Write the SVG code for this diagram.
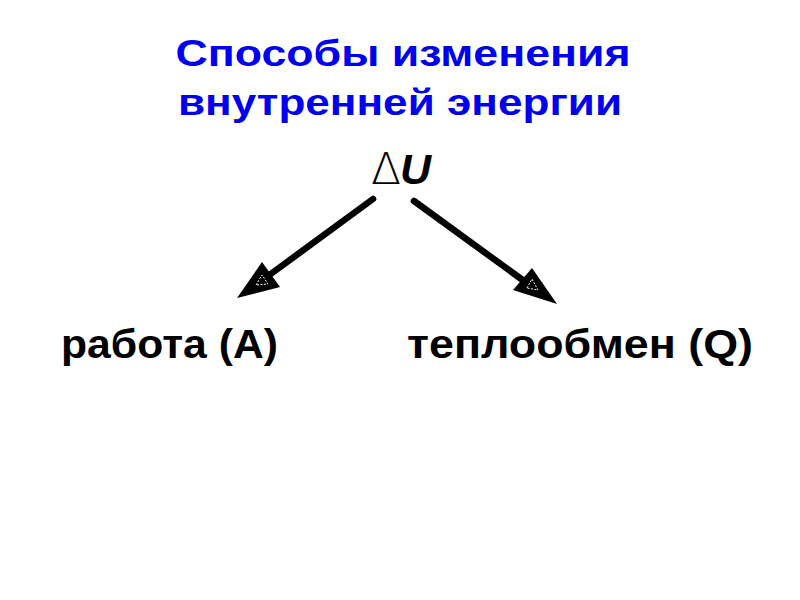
<svg xmlns="http://www.w3.org/2000/svg" width="800" height="600" viewBox="0 0 800 600">
<style>
.title{font-family:"Liberation Sans",Arial,sans-serif;font-weight:bold;font-size:36px;fill:#0000ee;text-anchor:middle}
.lbl{font-family:"Liberation Sans",Arial,sans-serif;font-weight:bold;font-size:41px;fill:#000}
.conn{stroke:#000;stroke-width:6.5;stroke-linecap:round;fill:none}
.head{fill:#000}
.inner{fill:#000;stroke:#fff;stroke-width:1;stroke-dasharray:2 1.5}
</style>
<rect width="800" height="600" fill="#fff"/>
<g id="title">
<text class="title" x="403" y="66" textLength="455" lengthAdjust="spacingAndGlyphs">Способы изменения</text>
<text class="title" x="400" y="115" textLength="444" lengthAdjust="spacingAndGlyphs">внутренней энергии</text>
</g>
<g id="deltaU">
<text x="371" y="184" font-family="'DejaVu Sans ExtraLight','DejaVu Sans',sans-serif" font-weight="200" font-size="44" fill="#000">∆</text>
<text x="400" y="184" font-family="'Liberation Sans',Arial,sans-serif" font-weight="bold" font-style="italic" font-size="43" fill="#000">U</text>
</g>
<g id="work">
<text class="lbl" x="61" y="358" textLength="217" lengthAdjust="spacingAndGlyphs">работа (A)</text>
</g>
<g id="heat">
<text class="lbl" x="407" y="358" textLength="346" lengthAdjust="spacingAndGlyphs">теплообмен (Q)</text>
</g>
<g id="connectors">
<line class="conn" x1="373" y1="199" x2="268" y2="276"/>
<path class="head" d="M237,298 L262,262 L280,287 Z"/>
<path class="inner" d="M256,285 L262,275 L268,284 Z"/>
<line class="conn" x1="414" y1="201" x2="524" y2="281"/>
<path class="head" d="M557,304 L532,268 L513,290 Z"/>
<path class="inner" d="M527,288 L532,279 L538,290 Z"/>
</g>
</svg>
